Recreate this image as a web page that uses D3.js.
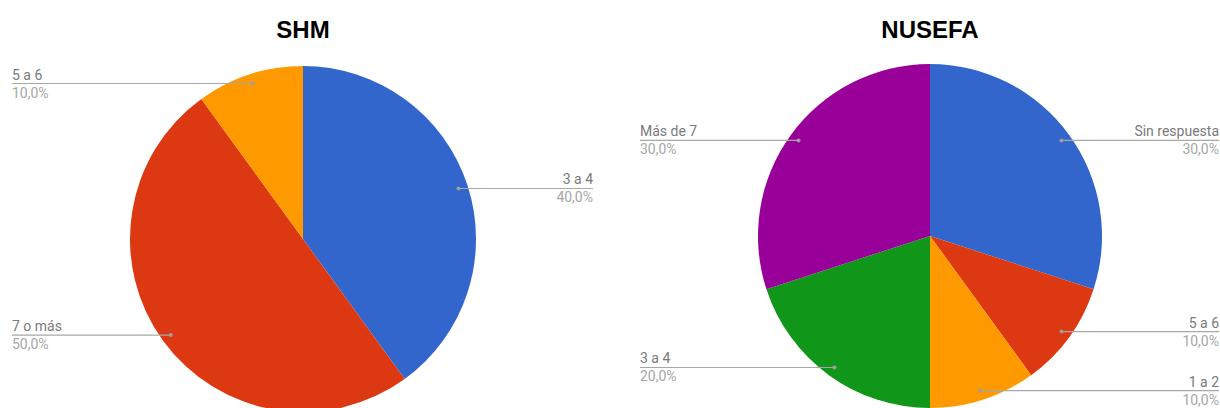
<!DOCTYPE html>
<html>
<head>
<meta charset="utf-8">
<script src="https://cdn.jsdelivr.net/npm/d3@7"></script>
<style>
  html, body { margin: 0; padding: 0; background: #fff; }
  svg { display: block; }
</style>
</head>
<body>
<svg id="chart" width="1220" height="408"></svg>
<script>
// Survey answers, one pie per group
const shmCategories = ["3 a 4", "7 o más", "5 a 6"];
const shmValues = [40, 50, 10];

const nusefaCategories = ["Sin respuesta", "5 a 6", "1 a 2", "3 a 4", "Más de 7"];
const nusefaValues = [30, 10, 10, 20, 30];

const palette = ["#3366cc", "#dc3912", "#ff9900", "#109618", "#990099"];

const svg = d3.select("#chart");
const fmt = v => d3.format(".1f")(v).replace(".", ",") + "%";

function drawPie(title, categories, values, cx, cy, R) {
  const g = svg.append("g");
  const data = categories.map((c, i) => ({ name: c, value: values[i], color: palette[i] }));
  const total = d3.sum(values);

  g.append("text")
    .attr("x", cx).attr("y", 38)
    .attr("text-anchor", "middle")
    .attr("font-family", "Liberation Sans, Arial, sans-serif")
    .attr("font-weight", "bold")
    .attr("font-size", 24)
    .attr("fill", "#000")
    .text(title);

  const pie = d3.pie().sort(null).value(d => d.value);
  const arc = d3.arc().innerRadius(0).outerRadius(R);
  const arcs = pie(data);

  const pg = g.append("g").attr("transform", `translate(${cx},${cy})`);
  pg.selectAll("path").data(arcs).enter().append("path")
    .attr("d", arc)
    .attr("fill", d => d.data.color);

  const dotR = R * 0.945;
  const leftX = cx - R - 118;
  const rightX = cx + R + 117;

  arcs.forEach(a => {
    const mid = (a.startAngle + a.endAngle) / 2;
    const px = cx + dotR * Math.sin(mid);
    const py = cy - dotR * Math.cos(mid);
    const right = Math.sin(mid) >= 0;
    const ex = right ? rightX : leftX;

    g.append("line")
      .attr("x1", px).attr("y1", py)
      .attr("x2", ex).attr("y2", py)
      .attr("stroke", "#a8a8a8").attr("stroke-width", 1.2);
    g.append("circle")
      .attr("cx", px).attr("cy", py).attr("r", 2)
      .attr("fill", "#9e9e9e");

    const anchor = right ? "end" : "start";
    g.append("text")
      .attr("x", ex).attr("y", py - 4)
      .attr("text-anchor", anchor)
      .attr("font-family", "Roboto, sans-serif")
      .attr("font-size", 14)
      .attr("fill", "#7a7a7a")
      .text(a.data.name);
    g.append("text")
      .attr("x", ex).attr("y", py + 14)
      .attr("text-anchor", anchor)
      .attr("font-family", "Roboto, sans-serif")
      .attr("font-size", 14)
      .attr("fill", "#a6a6a6")
      .text(fmt(a.data.value / total * 100));
  });
}

drawPie("SHM", shmCategories, shmValues, 303, 239, 173);
drawPie("NUSEFA", nusefaCategories, nusefaValues, 930, 236, 172);
</script>
</body>
</html>
